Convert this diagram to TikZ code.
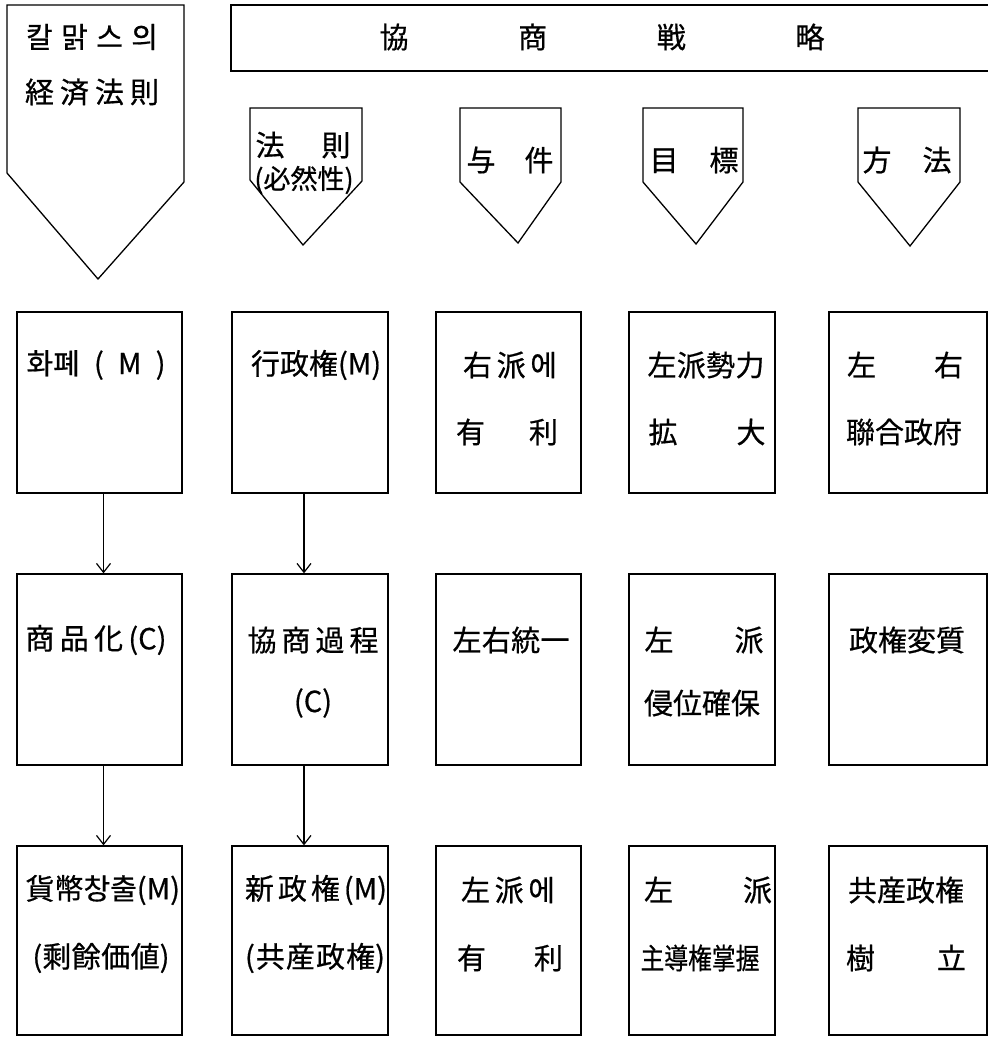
\documentclass[tikz,border=0pt]{standalone}
\usepackage{fontspec}
\usepackage{graphicx}
\newfontfamily\cjk[FakeBold=0.6]{Noto Sans CJK JP}
\usetikzlibrary{arrows.meta}
\tikzset{
  frame/.style={draw=black, line width=1.3pt, line join=miter},
  box/.style={frame, rectangle, inner sep=0pt},
  txt/.style={inner sep=0pt, font=\cjk\fontsize{29}{31}\selectfont},
  arr/.style={draw=black, line width=1.3pt, -{Straight Barb[length=9pt,width=14pt,line width=1.2pt]}}
}
\newcommand\mkbox[5]{\node[box, minimum width=#4pt, minimum height=#5pt] (#1) at (#2,#3) {};}
\newcommand\tl[5]{\node[txt] (#1) at (#2,#3) {\makebox[#4pt][s]{#5}};}
\begin{document}
\begin{tikzpicture}[x=1pt,y=-1pt]
\useasboundingbox[fill=white] (0,0) rectangle (988,1037);

% big pentagon
\draw[frame] (7,5) -- (184,5) -- (184,182) -- (98,279) -- (7,173) -- cycle;
\tl{bigA}{92}{37}{132}{칼\hfill 맑\hfill 스\hfill 의}
\tl{bigB}{92}{92}{134}{経\hfill 済\hfill 法\hfill 則}

% header
\draw[frame] (994,5) -- (231,5) -- (231,71) -- (994,71);
\tl{head}{602}{37}{445}{協\hfill 商\hfill 戦\hfill 略}

% small pentagons
\draw[frame] (250,108) -- (362,108) -- (362,181) -- (303,245) -- (250,180) -- cycle;
\tl{pA}{303}{145}{95}{法\hfill 則}
\node[txt, font=\cjk\fontsize{27}{29}\selectfont] (pAb) at (304,180) {(必然性)};
\draw[frame] (460,108) -- (561,108) -- (561,182) -- (518,243) -- (460,182) -- cycle;
\tl{pB}{510}{160}{87}{与\hfill 件}
\draw[frame] (643,108) -- (743,108) -- (743,182) -- (696,244) -- (643,182) -- cycle;
\tl{pC}{694}{160}{89}{目\hfill 標}
\draw[frame] (858,108) -- (960,108) -- (960,182) -- (910,246) -- (858,182) -- cycle;
\tl{pD}{907}{160}{89}{方\hfill 法}

% boxes: columns c1 17-182, c2 232-388, c3 436-581, c4 629-775, c5 829-987
\mkbox{b11}{99.5}{402.5}{165}{181}
\mkbox{b12}{310}{402.5}{156}{181}
\mkbox{b13}{508.5}{402.5}{145}{181}
\mkbox{b14}{702}{402.5}{146}{181}
\mkbox{b15}{908}{402.5}{158}{181}
\mkbox{b21}{99.5}{669.5}{165}{191}
\mkbox{b22}{310}{669.5}{156}{191}
\mkbox{b23}{508.5}{669.5}{145}{191}
\mkbox{b24}{702}{669.5}{146}{191}
\mkbox{b25}{908}{669.5}{158}{191}
\mkbox{b31}{99.5}{940.5}{165}{189}
\mkbox{b32}{310}{940.5}{156}{189}
\mkbox{b33}{508.5}{940.5}{145}{189}
\mkbox{b34}{702}{940.5}{146}{189}
\mkbox{b35}{908}{940.5}{158}{189}

% row 1 texts
\tl{t11}{96}{365}{139}{화폐\hfill (\hfill M\hfill )}
\tl{t12}{316}{365}{130}{行\hfill 政\hfill 権\hfill (M)}
\tl{t13a}{510}{365}{94}{右\hfill 派\hfill 에}
\tl{t13b}{507}{432}{102}{有\hfill 利}
\tl{t14a}{706}{365}{117}{左\hfill 派\hfill 勢\hfill 力}
\tl{t14b}{707}{432}{117}{拡\hfill 大}
\tl{t15a}{905}{365}{116}{左\hfill 右}
\tl{t15b}{904}{432}{116}{聯\hfill 合\hfill 政\hfill 府}

% row 2 texts
\tl{t21}{96}{640}{141}{商\hfill 品\hfill 化\hfill (C)}
\tl{t22a}{313}{640}{131}{協\hfill 商\hfill 過\hfill 程}
\node[txt] (t22b) at (313,703) {(C)};
\tl{t23}{511}{640}{117}{左\hfill 右\hfill 統\hfill 一}
\tl{t24a}{704}{640}{119}{左\hfill 派}
\tl{t24b}{702}{703}{116}{侵\hfill 位\hfill 確\hfill 保}
\tl{t25}{907}{640}{116}{政\hfill 権\hfill 変\hfill 質}

% row 3 texts
\tl{t31a}{101}{890}{151}{貨\hfill 幣\hfill 창\hfill 출(M)}
\tl{t31b}{101}{958}{137}{(剩\hfill 餘\hfill 価\hfill 値)}
\tl{t32a}{316}{890}{142}{新\hfill 政\hfill 権\hfill (M)}
\tl{t32b}{315}{958}{140}{(\hfill 共\hfill 産\hfill 政\hfill 権)}
\tl{t33a}{508}{890}{94}{左\hfill 派\hfill 에}
\tl{t33b}{510}{958}{106}{有\hfill 利}
\tl{t34a}{708}{890}{128}{左\hfill 派}
\node[txt] (t34b) at (700,958) {\scalebox{0.82}[1]{主導権掌握}};
\tl{t35a}{906}{890}{116}{共\hfill 産\hfill 政\hfill 権}
\tl{t35b}{906}{958}{120}{樹\hfill 立}

% arrows
\draw[arr] ([xshift=4pt]b11.south) -- ([xshift=4pt]b21.north);
\draw[arr] ([xshift=-6pt]b12.south) -- ([xshift=-6pt]b22.north);
\draw[arr] ([xshift=4pt]b21.south) -- ([xshift=4pt]b31.north);
\draw[arr] ([xshift=-6pt]b22.south) -- ([xshift=-6pt]b32.north);
\end{tikzpicture}
\end{document}
